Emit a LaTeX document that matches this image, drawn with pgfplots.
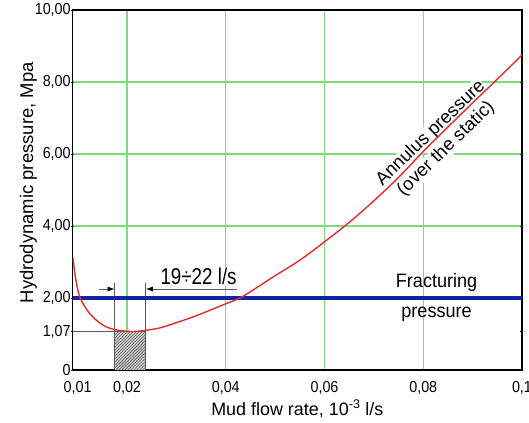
\documentclass[border=0pt]{standalone}
\usepackage{pgfplots}
\pgfplotsset{compat=1.18}
\usepackage{fontspec}
\setmainfont{Liberation Sans}
\newfontfamily\narrowfont{Liberation Sans}[FakeStretch=0.82]
\newfontfamily\tickfont{Liberation Sans}[FakeStretch=0.9]
\newfontfamily\fracfont{Liberation Sans}[FakeStretch=0.93]
\usetikzlibrary{patterns,arrows.meta}
\definecolor{gridgreen}{RGB}{125,218,125}
\definecolor{curvered}{RGB}{222,45,45}
\definecolor{fracblue}{RGB}{15,35,165}
\definecolor{anngray}{RGB}{90,90,90}
\begin{document}
\begin{tikzpicture}
\path[use as bounding box] (-72.7bp,-53bp) rectangle (456.3bp,370bp);
\begin{axis}[
  at={(0,0)}, anchor=south west, scale only axis,
  width=449.3bp, height=360bp,
  xmin=0.009, xmax=0.1, ymin=0, ymax=10,
  axis line style={line width=1.1bp, black},
  xtick={0.02,0.04,0.06,0.08},
  xticklabels={{0,02},{0,04},{0,06},{0,08}},
  extra x ticks={0.01,0.1},
  extra x tick labels={{0,01},{0,1}},
  extra x tick style={grid=none},
  ytick={2,4,6,8},
  yticklabels={{2,00},{4,00},{6,00},{8,00}},
  extra y ticks={0,1.07,10},
  extra y tick labels={0,{1,07},{10,00}},
  extra y tick style={grid=none},
  grid=major,
  major grid style={gridgreen, line width=1.1bp},
  xtick style={draw=none},
  ytick style={black, line width=0.6bp},
  major tick length=3bp,
  tick align=center,
  ticklabel style={font=\tickfont\fontsize{16}{18}\selectfont},
  xticklabel style={yshift=-6bp},
  yticklabel style={xshift=3bp},
  /pgf/number format/assume math mode=true,
  xlabel={Mud flow rate, 10\textsuperscript{-3} l/s},
  ylabel={Hydrodynamic pressure, Mpa},
  xlabel style={font=\fontsize{18}{20}\selectfont, at={(axis description cs:0.5,0)}, anchor=base, yshift=-45bp},
  ylabel style={font=\fontsize{18.5}{20}\selectfont, at={(axis description cs:-0.088,0.52)}, anchor=base},
]
% hatched interval
\addplot[draw=anngray, line width=0.8bp, fill=gray!40,
  postaction={pattern=north east lines, pattern color=black!70}]
  coordinates {(0.0175,0) (0.0175,1.07) (0.0238,1.07) (0.0238,0)} -- cycle;
% annotation lines
\addplot[anngray, line width=0.8bp] coordinates {(0.009,1.07) (0.0238,1.07)};
\addplot[anngray, line width=0.8bp] coordinates {(0.0175,0) (0.0175,2.43)};
\addplot[anngray, line width=0.8bp] coordinates {(0.0238,0) (0.0238,2.43)};
% texts
\node[font=\narrowfont\fontsize{23}{25}\selectfont, fill=white, inner sep=1bp, anchor=base]
  at (axis cs:0.0345,2.38) {19÷22 l/s};
\addplot[anngray, line width=0.8bp, -{Latex[length=7bp,width=5bp,black]}]
  coordinates {(0.0144,2.25) (0.0175,2.25)};
\addplot[anngray, line width=0.8bp, {Latex[length=7bp,width=5bp,black]}-]
  coordinates {(0.0238,2.25) (0.0422,2.25)};
% fracturing pressure
\addplot[fracblue, line width=3.6bp] coordinates {(0.009,2) (0.1,2)};
\node[font=\fracfont\fontsize{19.5}{21}\selectfont, anchor=base] at (axis cs:0.0827,2.3) {Fracturing};
\node[font=\fracfont\fontsize{19.5}{21}\selectfont, anchor=base] at (axis cs:0.0827,1.47) {pressure};
\node[font=\fontsize{18.5}{20}\selectfont, rotate=44, anchor=base, fill=white, inner sep=0.5bp]
  at (axis cs:0.0822,6.48) {Annulus pressure};
\node[font=\fontsize{18.5}{20}\selectfont, rotate=44, anchor=base, fill=white, inner sep=0.5bp]
  at (axis cs:0.0853,6.05) {(over the static)};
% annulus pressure curve
\addplot[curvered, line width=1.4bp, smooth] coordinates {
(0.0090,3.15) (0.0095,2.62) (0.0100,2.25) (0.0105,2.00) (0.0115,1.75)
(0.0125,1.56) (0.0140,1.36) (0.0152,1.24) (0.0165,1.16) (0.0179,1.11)
(0.0200,1.075) (0.0215,1.07) (0.0237,1.10) (0.0267,1.17) (0.0301,1.32)
(0.0335,1.48) (0.0368,1.66) (0.0400,1.84) (0.0434,2.04) (0.0500,2.62)
(0.0550,3.05) (0.0600,3.56) (0.0650,4.10) (0.0700,4.70) (0.0750,5.35)
(0.0800,6.07) (0.0850,6.75) (0.0900,7.42) (0.0950,8.08) (0.1000,8.75)
};
\end{axis}
\end{tikzpicture}
\end{document}
